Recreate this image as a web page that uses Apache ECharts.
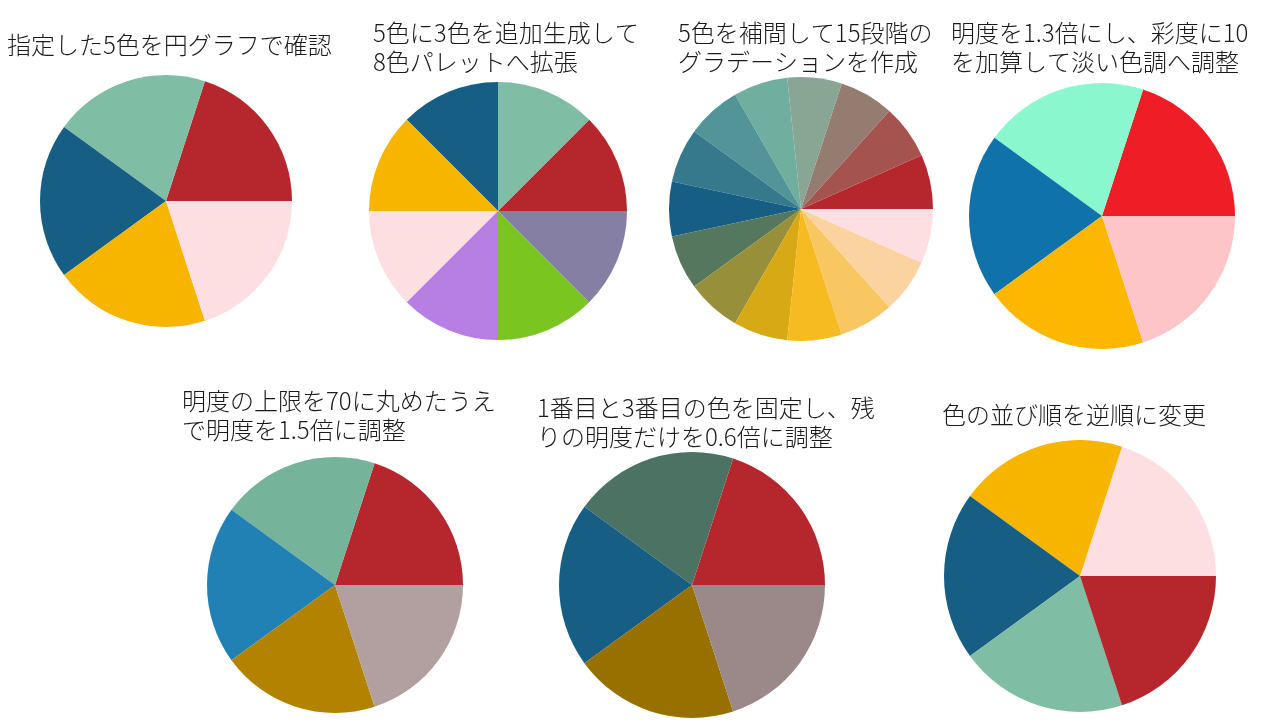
<!DOCTYPE html>
<html>
<head>
<meta charset="utf-8">
<script src="https://cdn.jsdelivr.net/npm/echarts@6/dist/echarts.min.js"></script>
<style>
html,body{margin:0;padding:0;background:#fff;}
#main{width:1261px;height:725px;}
</style>
</head>
<body>
<div id="main"></div>
<script>
// ---- data ----
const titles = [
  "指定した5色を円グラフで確認",
  "5色に3色を追加生成して\n8色パレットへ拡張",
  "5色を補間して15段階の\nグラデーションを作成",
  "明度を1.3倍にし、彩度に10\nを加算して淡い色調へ調整",
  "明度の上限を70に丸めたうえ\nで明度を1.5倍に調整",
  "1番目と3番目の色を固定し、残\nりの明度だけを0.6倍に調整",
  "色の並び順を逆順に変更"
];
const colors1 = ["#B5272D", "#7FBDA5", "#175E85", "#F7B500", "#FDDFE2"];
const colors2 = ["#B5272D", "#7FBDA5", "#175E85", "#F7B500", "#FDDFE2", "#B77FE3", "#7AC520", "#847FA3"];
const colors3 = ["#B5272D", "#A4534F", "#957C71", "#88A693", "#70AFA0", "#529497", "#36798D", "#175E85",
                 "#55775D", "#978F39", "#D6A915", "#F7BB22", "#F9C762", "#FBD3A1", "#FDDFE2"];
const colors4 = ["#EF1D26", "#8BF7CF", "#0F72AA", "#FDB700", "#FEC5C9"];
const colors5 = ["#B5272D", "#75B39B", "#2181B5", "#B38300", "#B29FA0"];
const colors6 = ["#B5272D", "#4C7263", "#175E85", "#977000", "#9B8888"];
const colors7 = ["#FDDFE2", "#F7B500", "#175E85", "#7FBDA5", "#B5272D"];
const values5 = [1, 1, 1, 1, 1];
const values8 = [1, 1, 1, 1, 1, 1, 1, 1];
const values15 = [1, 1, 1, 1, 1, 1, 1, 1, 1, 1, 1, 1, 1, 1, 1];

// ---- layout ----
const pies = [
  {colors: colors1, values: values5,  center: [166, 201], r: 126, tl: 7,   tt: 30},
  {colors: colors2, values: values8,  center: [498, 211], r: 129, tl: 373, tt: 18},
  {colors: colors3, values: values15, center: [801, 209], r: 132, tl: 678, tt: 18},
  {colors: colors4, values: values5,  center: [1102, 216], r: 133, tl: 951, tt: 18},
  {colors: colors5, values: values5,  center: [335, 585], r: 128, tl: 182, tt: 386},
  {colors: colors6, values: values5,  center: [692, 585], r: 133, tl: 537, tt: 393},
  {colors: colors7, values: values5,  center: [1080, 576], r: 136, tl: 942, tt: 400}
];

const chart = echarts.init(document.getElementById('main'), null, {renderer: 'canvas'});
const font = "'Noto Sans CJK JP', 'Noto Sans', sans-serif";

const option = {
  backgroundColor: '#ffffff',
  animation: false,
  title: pies.map((p, i) => ({
    text: titles[i],
    left: p.tl,
    top: p.tt,
    padding: 0,
    textStyle: {
      fontFamily: font,
      fontSize: 24,
      fontWeight: 300,
      color: '#1a1a1a',
      lineHeight: 29
    }
  })),
  series: pies.map((p) => ({
    type: 'pie',
    center: p.center,
    radius: p.r,
    startAngle: 0,
    clockwise: false,
    silent: true,
    label: {show: false},
    labelLine: {show: false},
    emphasis: {disabled: true},
    itemStyle: {borderWidth: 0},
    data: p.values.map((v, j) => ({value: v, itemStyle: {color: p.colors[j]}}))
  }))
};
chart.setOption(option);
</script>
</body>
</html>
